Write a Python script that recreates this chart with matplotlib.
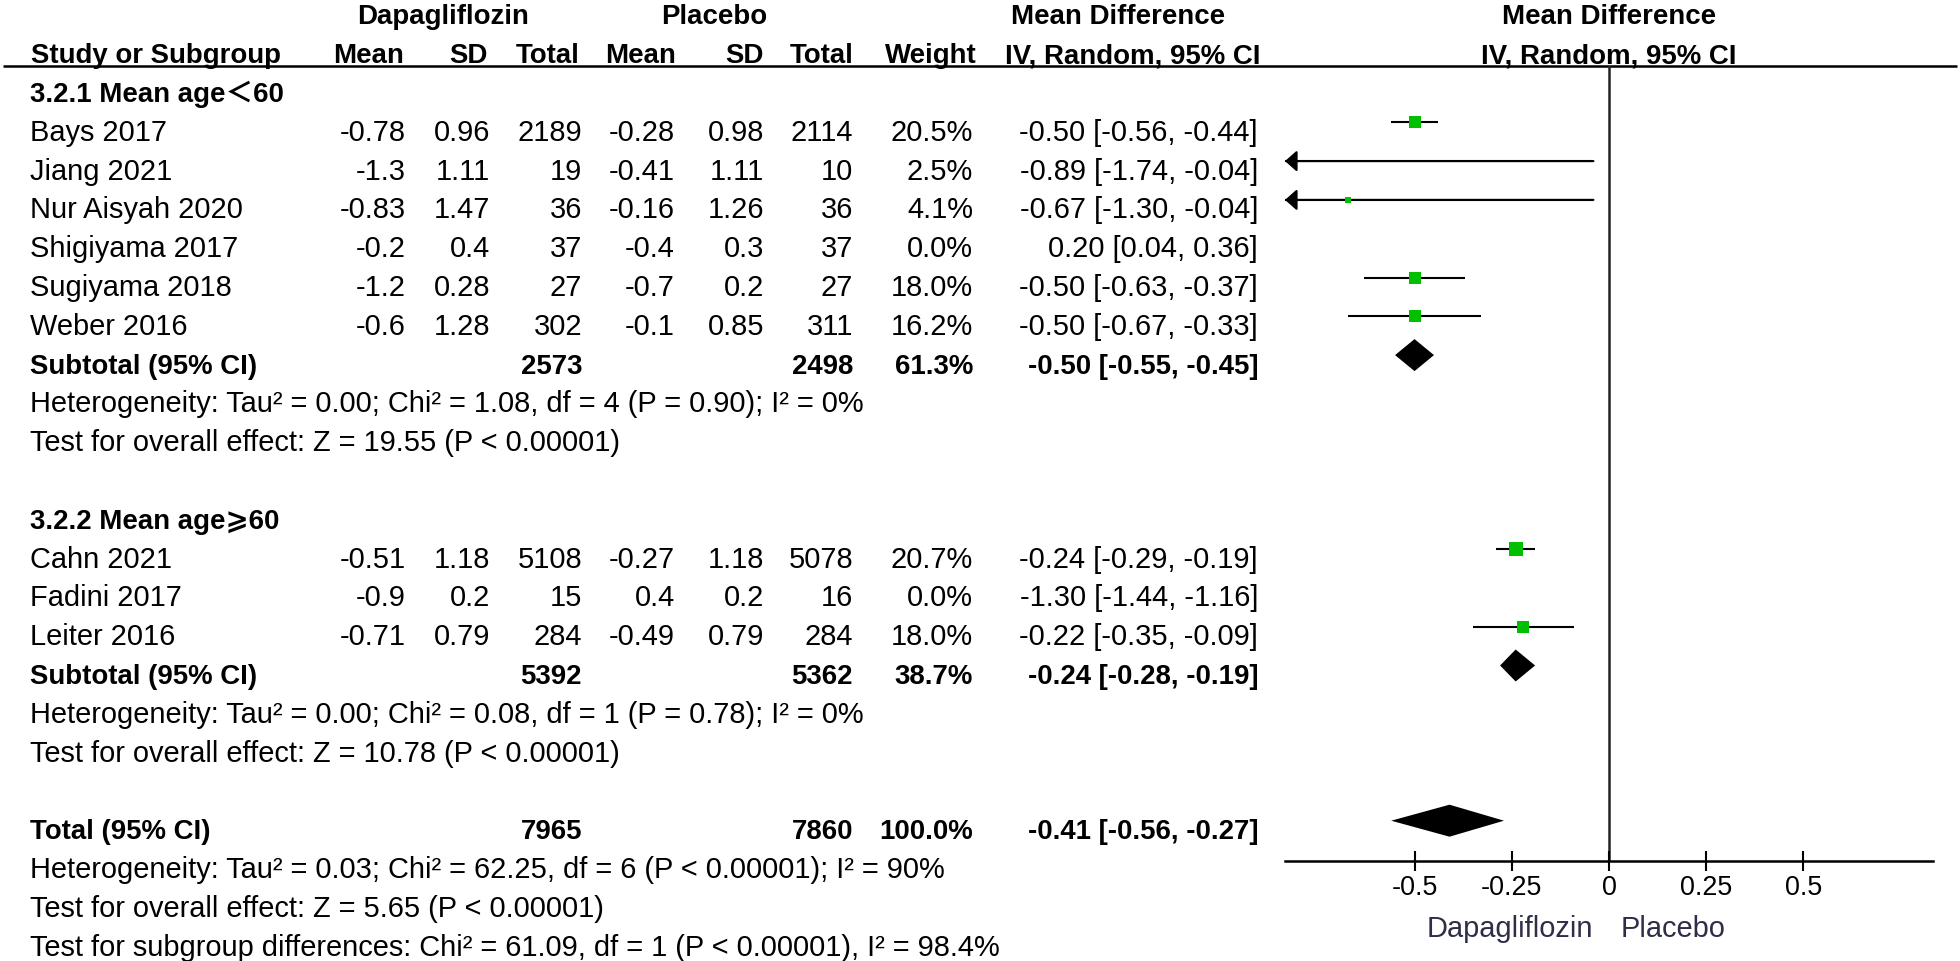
import matplotlib
matplotlib.use("Agg")
import matplotlib.pyplot as plt
from matplotlib import font_manager

# ---- data -------------------------------------------------------------
studies_g1 = ["Bays 2017", "Jiang 2021", "Nur Aisyah 2020", "Shigiyama 2017",
              "Sugiyama 2018", "Weber 2016"]
dapa_mean_g1 = [-0.78, -1.3, -0.83, -0.2, -1.2, -0.6]
dapa_sd_g1 = [0.96, 1.11, 1.47, 0.4, 0.28, 1.28]
dapa_n_g1 = [2189, 19, 36, 37, 27, 302]
plac_mean_g1 = [-0.28, -0.41, -0.16, -0.4, -0.7, -0.1]
plac_sd_g1 = [0.98, 1.11, 1.26, 0.3, 0.2, 0.85]
plac_n_g1 = [2114, 10, 36, 37, 27, 311]
weight_g1 = [20.5, 2.5, 4.1, 0.0, 18.0, 16.2]
md_g1 = [-0.50, -0.89, -0.67, 0.20, -0.50, -0.50]
lo_g1 = [-0.56, -1.74, -1.30, 0.04, -0.63, -0.67]
hi_g1 = [-0.44, -0.04, -0.04, 0.36, -0.37, -0.33]

studies_g2 = ["Cahn 2021", "Fadini 2017", "Leiter 2016"]
dapa_mean_g2 = [-0.51, -0.9, -0.71]
dapa_sd_g2 = [1.18, 0.2, 0.79]
dapa_n_g2 = [5108, 15, 284]
plac_mean_g2 = [-0.27, 0.4, -0.49]
plac_sd_g2 = [1.18, 0.2, 0.79]
plac_n_g2 = [5078, 16, 284]
weight_g2 = [20.7, 0.0, 18.0]
md_g2 = [-0.24, -1.30, -0.22]
lo_g2 = [-0.29, -1.44, -0.35]
hi_g2 = [-0.19, -1.16, -0.09]

# subtotal 1, subtotal 2, total
pooled_n_dapa = [2573, 5392, 7965]
pooled_n_plac = [2498, 5362, 7860]
pooled_weight = [61.3, 38.7, 100.0]
pooled_md = [-0.50, -0.24, -0.41]
pooled_lo = [-0.55, -0.28, -0.56]
pooled_hi = [-0.45, -0.19, -0.27]

group_titles = ["3.2.1 Mean age\uff1c60", "3.2.2 Mean age\u2a7e60"]
het_lines = [
    "Heterogeneity: Tau\u00b2 = 0.00; Chi\u00b2 = 1.08, df = 4 (P = 0.90); I\u00b2 = 0%",
    "Heterogeneity: Tau\u00b2 = 0.00; Chi\u00b2 = 0.08, df = 1 (P = 0.78); I\u00b2 = 0%",
    "Heterogeneity: Tau\u00b2 = 0.03; Chi\u00b2 = 62.25, df = 6 (P < 0.00001); I\u00b2 = 90%",
]
effect_lines = [
    "Test for overall effect: Z = 19.55 (P < 0.00001)",
    "Test for overall effect: Z = 10.78 (P < 0.00001)",
    "Test for overall effect: Z = 5.65 (P < 0.00001)",
]
subgroup_line = "Test for subgroup differences: Chi\u00b2 = 61.09, df = 1 (P < 0.00001), I\u00b2 = 98.4%"

tick_vals = [-0.5, -0.25, 0, 0.25, 0.5]
tick_labels = ["-0.5", "-0.25", "0", "0.25", "0.5"]

# ---- layout (pixels) --------------------------------------------------
W, H = 1960, 962
ROW0, ROWH = 102.0, 38.8     # baseline of first body row, row pitch
MARK_SHIFT = -17.5           # plot symbols sit a bit above the text baseline
AX_L, AX_R, AX_T, AX_B = 1285, 1933, 67, 862
XLIM = 0.833
COL_X = dict(dmean=406, dsd=490, dtot=582, pmean=675, psd=764, ptot=853,
             weight=973, ci=1258)
GREEN = "#00c000"
PT = 0.72                    # px -> pt at dpi 100


def has_font(name):
    try:
        font_manager.findfont(font_manager.FontProperties(family=name),
                              fallback_to_default=False)
        return True
    except ValueError:
        return False


REG = dict(family=["Liberation Sans", "DejaVu Sans", "Noto Sans CJK SC"], fontsize=20.9)
if has_font("Liberation Sans Narrow"):
    BOLD = dict(family=["Liberation Sans Narrow", "Noto Sans CJK SC", "DejaVu Sans"],
                fontweight="bold", fontsize=24.2)
else:
    BOLD = dict(family=["Liberation Sans", "Noto Sans CJK SC", "DejaVu Sans"],
                fontweight="bold", fontsize=19.9)

fig = plt.figure(figsize=(W / 100, H / 100), dpi=100)
bg = fig.add_axes([0, 0, 1, 1])
bg.set_xlim(0, W)
bg.set_ylim(H, 0)
bg.axis("off")


def put(x, r, s, ha="left", bold=False, **kw):
    style = BOLD if bold else REG
    bg.text(x, ROW0 + ROWH * r, s, ha=ha, va="baseline", color="black", **style, **kw)


def fmt(v):
    return f"{v:g}"


# ---- header -----------------------------------------------------------
put(443, -2, "Dapagliflozin", ha="center", bold=True)
put(714, -2, "Placebo", ha="center", bold=True)
put(1118, -2, "Mean Difference", ha="center", bold=True)
put(1609, -2, "Mean Difference", ha="center", bold=True)
put(31, -1, "Study or Subgroup", bold=True)
put(404, -1, "Mean", ha="right", bold=True)
put(488, -1, "SD", ha="right", bold=True)
put(580, -1, "Total", ha="right", bold=True)
put(676, -1, "Mean", ha="right", bold=True)
put(764, -1, "SD", ha="right", bold=True)
put(854, -1, "Total", ha="right", bold=True)
put(977, -1, "Weight", ha="right", bold=True)
put(1260, -1, "IV, Random, 95% CI", ha="right", bold=True)
put(1609, -1, "IV, Random, 95% CI", ha="center", bold=True)
bg.plot([3, 1957], [AX_T, AX_T], color="black", lw=1.8, solid_capstyle="butt")

# ---- forest axes ------------------------------------------------------
fax = fig.add_axes([AX_L / W, 1 - AX_B / H, (AX_R - AX_L) / W, (AX_B - AX_T) / H])
fax.set_xlim(-XLIM, XLIM)
fax.set_ylim((AX_B - ROW0 - MARK_SHIFT) / ROWH, (AX_T - ROW0 - MARK_SHIFT) / ROWH)
fax.patch.set_alpha(0)
for side in ("left", "right", "top"):
    fax.spines[side].set_visible(False)
fax.spines["bottom"].set_linewidth(1.8)
fax.set_yticks([])
fax.set_xticks(tick_vals)
fax.set_xticklabels(tick_labels, family=REG["family"])
fax.tick_params(axis="x", direction="inout", length=15, width=1.5,
                labelsize=19.4, pad=2, colors="black")
fax.axvline(0, color="#222222", lw=1.8, zorder=1)


def draw_study(r, md, lo, hi, w):
    if w <= 0:
        return
    a, b = max(lo, -XLIM), min(hi, XLIM)
    if b > a:
        fax.plot([a, b], [r, r], color="black", lw=1.5, zorder=2,
                 solid_capstyle="butt")
    head = dict(arrowstyle="-|>,head_length=0.36,head_width=0.32", color="black",
                lw=1.5, shrinkA=0, shrinkB=0, mutation_scale=20)
    if lo < -XLIM:
        fax.annotate("", xy=(-XLIM, r), xytext=(b, r), arrowprops=head,
                     annotation_clip=False)
    if hi > XLIM:
        fax.annotate("", xy=(XLIM, r), xytext=(a, r), arrowprops=head,
                     annotation_clip=False)
    if -XLIM <= md <= XLIM:
        side_px = 2.87 * w ** 0.5
        fax.plot(md, r, marker="s", ms=side_px * PT, mew=0, color=GREEN, zorder=3)


def draw_pooled(r, md, lo, hi):
    h = 16 / ROWH
    fax.fill([lo, md, hi, md], [r, r - h, r, r + h], color="black", lw=0, zorder=3)


groups = [
    (studies_g1, dapa_mean_g1, dapa_sd_g1, dapa_n_g1, plac_mean_g1, plac_sd_g1,
     plac_n_g1, weight_g1, md_g1, lo_g1, hi_g1),
    (studies_g2, dapa_mean_g2, dapa_sd_g2, dapa_n_g2, plac_mean_g2, plac_sd_g2,
     plac_n_g2, weight_g2, md_g2, lo_g2, hi_g2),
]

r = 0
for g, data in enumerate(groups):
    names, dm, dsd, dn, pm, psd, pn, wt, md, lo, hi = data
    put(30, r, group_titles[g], bold=True)
    r += 1
    for i, name in enumerate(names):
        put(30, r, name)
        put(COL_X["dmean"], r, fmt(dm[i]), ha="right")
        put(COL_X["dsd"], r, fmt(dsd[i]), ha="right")
        put(COL_X["dtot"], r, str(dn[i]), ha="right")
        put(COL_X["pmean"], r, fmt(pm[i]), ha="right")
        put(COL_X["psd"], r, fmt(psd[i]), ha="right")
        put(COL_X["ptot"], r, str(pn[i]), ha="right")
        put(COL_X["weight"], r, f"{wt[i]:.1f}%", ha="right")
        put(COL_X["ci"], r, f"{md[i]:.2f} [{lo[i]:.2f}, {hi[i]:.2f}]", ha="right")
        draw_study(r, md[i], lo[i], hi[i], wt[i])
        r += 1
    put(30, r, "Subtotal (95% CI)", bold=True)
    put(COL_X["dtot"], r, str(pooled_n_dapa[g]), ha="right", bold=True)
    put(COL_X["ptot"], r, str(pooled_n_plac[g]), ha="right", bold=True)
    put(COL_X["weight"], r, f"{pooled_weight[g]:.1f}%", ha="right", bold=True)
    put(COL_X["ci"], r, f"{pooled_md[g]:.2f} [{pooled_lo[g]:.2f}, {pooled_hi[g]:.2f}]",
        ha="right", bold=True)
    draw_pooled(r, pooled_md[g], pooled_lo[g], pooled_hi[g])
    put(30, r + 1, het_lines[g])
    put(30, r + 2, effect_lines[g])
    r += 4

put(30, r, "Total (95% CI)", bold=True)
put(COL_X["dtot"], r, str(pooled_n_dapa[2]), ha="right", bold=True)
put(COL_X["ptot"], r, str(pooled_n_plac[2]), ha="right", bold=True)
put(COL_X["weight"], r, f"{pooled_weight[2]:.1f}%", ha="right", bold=True)
put(COL_X["ci"], r, f"{pooled_md[2]:.2f} [{pooled_lo[2]:.2f}, {pooled_hi[2]:.2f}]",
    ha="right", bold=True)
draw_pooled(r, pooled_md[2], pooled_lo[2], pooled_hi[2])
put(30, r + 1, het_lines[2])
put(30, r + 2, effect_lines[2])
put(30, r + 3, subgroup_line)

# favours labels under the axis
bg.text(1593, 937, "Dapagliflozin", ha="right", va="baseline", color="#2e2e48", **REG)
bg.text(1621, 937, "Placebo", ha="left", va="baseline", color="#2e2e48", **REG)

fig.savefig("out.png", dpi=100)
